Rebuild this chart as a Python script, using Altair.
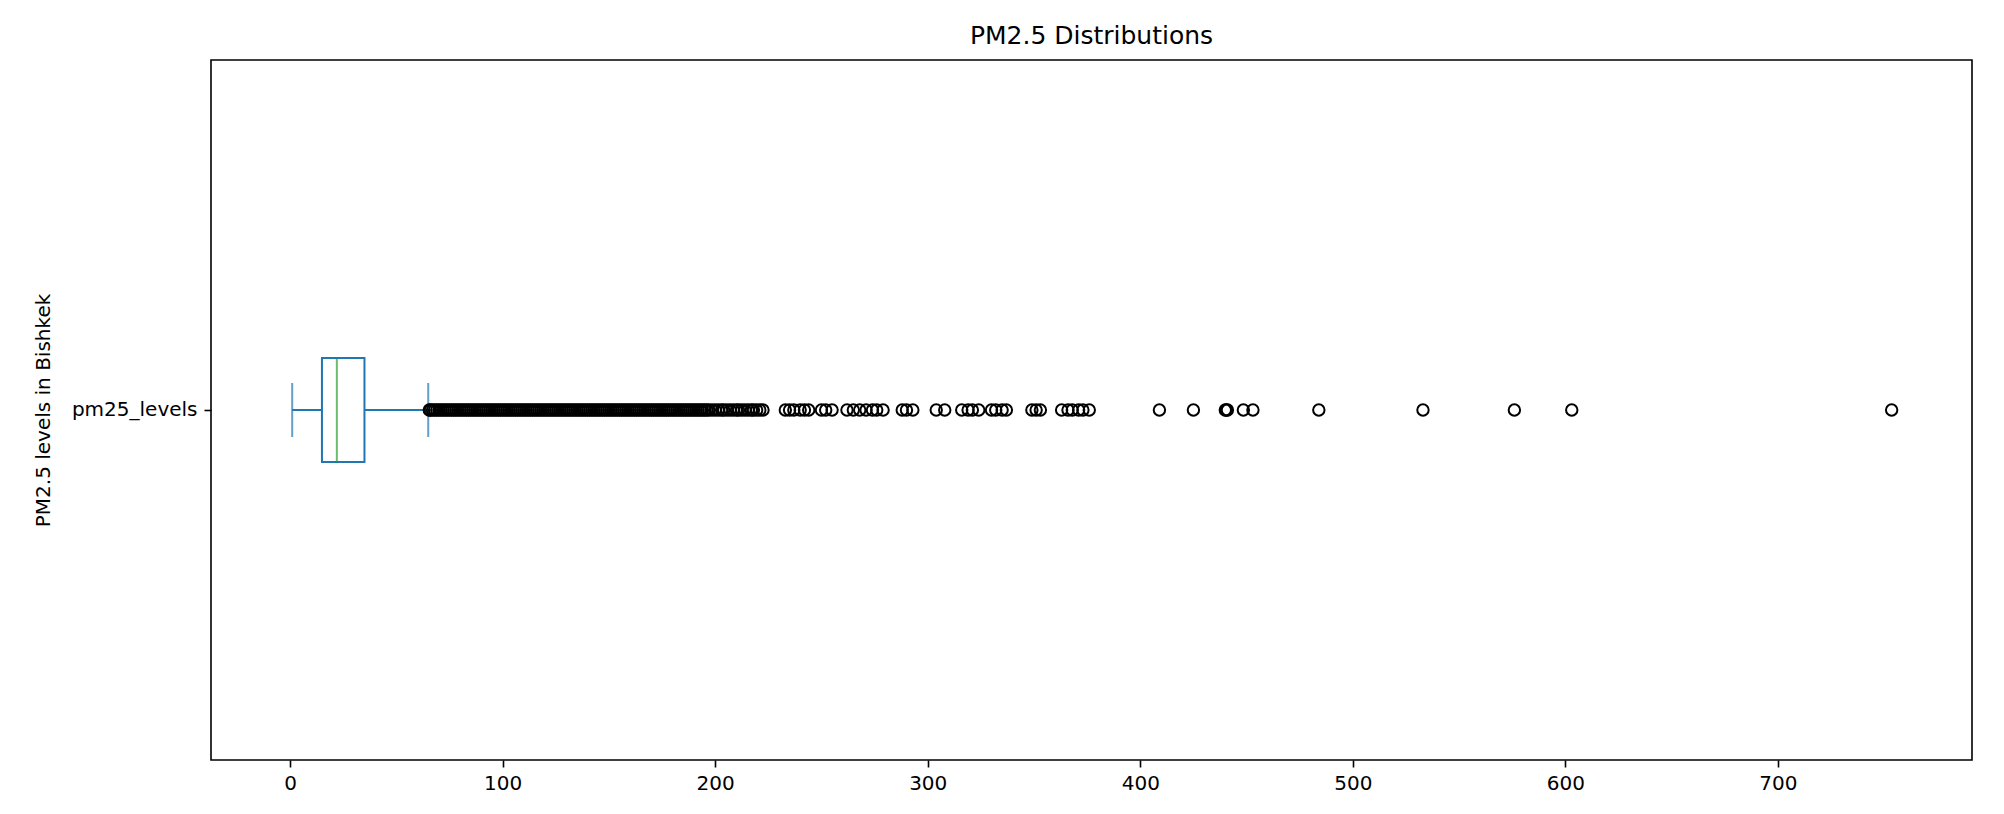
import altair as alt
import pandas as pd

# box statistics (PM2.5, Bishkek)
series = "pm25_levels"
whisker_low = 1.0
q1 = 15.0
median = 22.0
q3 = 35.0
whisker_high = 65.0

# outliers beyond the upper whisker (dense run first, then the sparse tail)
outliers_dense = [
    65.5, 66, 67, 68, 69, 70, 71, 72, 73, 74, 75, 76, 77, 78, 79, 80, 81,
    82, 83, 84, 85, 86, 87, 88, 89, 90, 91, 92, 93, 94, 95, 96, 97, 98, 99,
    100, 101, 102, 103, 104, 105, 106, 107, 108, 109, 110, 111, 112, 113,
    114, 115, 116, 117, 118, 119, 120, 121, 122, 123, 124, 125, 126, 127,
    128, 129, 130, 131, 132, 133, 134, 135, 136, 137, 138, 139, 140, 141,
    142, 143, 144, 145, 146, 147, 148, 149, 150, 151, 152, 153, 154, 155,
    156, 157, 158, 159, 160,
]
outliers_mid = [
    161, 162, 163, 164, 165, 166, 167, 168, 169, 170, 171, 172, 173, 174,
    175, 176, 177, 178, 179, 180, 181, 182, 183, 184, 185, 186, 187, 188,
    189, 190, 191, 192, 193, 194, 195, 196, 197, 198.5, 200, 201.5, 203,
    204, 205.5, 207, 208.5, 210, 211, 212.5, 214, 215.5, 217, 218, 219.5,
    221, 222.5,
]
outliers_tail = [
    233, 235, 237, 240, 242, 244, 250, 252, 255, 262, 265, 268, 271, 274,
    276, 279, 288, 290, 293, 304, 308, 316, 319, 321, 324, 330, 332, 335,
    337, 349, 351, 353, 363, 366, 368, 371, 373, 376, 409, 425, 440, 440.5,
    441, 448.5, 453, 484, 533, 576, 603, 753.5,
]

x_domain = [-37.2, 791.3]
blue = "#1f77b4"
green = "#2ca02c"

stats = pd.DataFrame([{
    "name": series, "low": whisker_low, "q1": q1, "median": median,
    "q3": q3, "high": whisker_high,
}])
fliers = pd.DataFrame({
    "name": series,
    "value": outliers_dense + outliers_mid + outliers_tail,
})

x_scale = alt.Scale(domain=x_domain, nice=False, zero=False)
y_enc = alt.Y(
    "name:N",
    scale=alt.Scale(domain=[series]),
    axis=alt.Axis(
        title="PM2.5 levels in Bishkek",
        titleX=-168, titleY=350, titleAngle=-90,
        titleAlign="center", titleBaseline="middle",
    ),
)
x_axis = alt.Axis(values=[0, 100, 200, 300, 400, 500, 600, 700], title=None)

base = alt.Chart(stats)

box = base.mark_bar(size=104, fillOpacity=0, stroke=blue, strokeWidth=2).encode(
    x=alt.X("q1:Q", scale=x_scale, axis=x_axis), x2="q3:Q", y=y_enc
)
whisk_lo = base.mark_rule(color=blue, strokeWidth=2).encode(
    x=alt.X("low:Q", scale=x_scale), x2="q1:Q", y=y_enc
)
whisk_hi = base.mark_rule(color=blue, strokeWidth=2).encode(
    x=alt.X("q3:Q", scale=x_scale), x2="high:Q", y=y_enc
)
cap_lo = base.mark_tick(color=blue, size=54, thickness=2).encode(
    x=alt.X("low:Q", scale=x_scale), y=y_enc
)
cap_hi = base.mark_tick(color=blue, size=54, thickness=2).encode(
    x=alt.X("high:Q", scale=x_scale), y=y_enc
)
med = base.mark_tick(color=green, size=102, thickness=2).encode(
    x=alt.X("median:Q", scale=x_scale), y=y_enc
)
points = alt.Chart(fliers).mark_point(
    shape="circle", filled=False, size=130, strokeWidth=2, color="black", opacity=1
).encode(
    x=alt.X("value:Q", scale=x_scale), y=y_enc
)

chart = alt.layer(box, whisk_lo, whisk_hi, cap_lo, cap_hi, med, points).properties(
    width=1761,
    height=700,
    autosize=alt.AutoSizeParams(type="none"),
    padding={"left": 203, "top": 52, "right": 24, "bottom": 46},
    title=alt.TitleParams(
        "PM2.5 Distributions", fontSize=25, fontWeight="normal",
        font="DejaVu Sans", color="black", offset=11, anchor="middle",
    ),
).configure_view(
    stroke="black", strokeWidth=1.6
).configure_axis(
    grid=False, domain=False, tickColor="black", tickWidth=1.6, tickSize=7,
    labelFont="DejaVu Sans", labelFontSize=20, labelColor="black",
    titleFont="DejaVu Sans", titleFontSize=20, titleColor="black",
    titleFontWeight="normal", labelPadding=7,
).configure_axisX(
    labelPadding=6
)

chart.save("out.html", embed_options={"renderer": "svg", "actions": False})
